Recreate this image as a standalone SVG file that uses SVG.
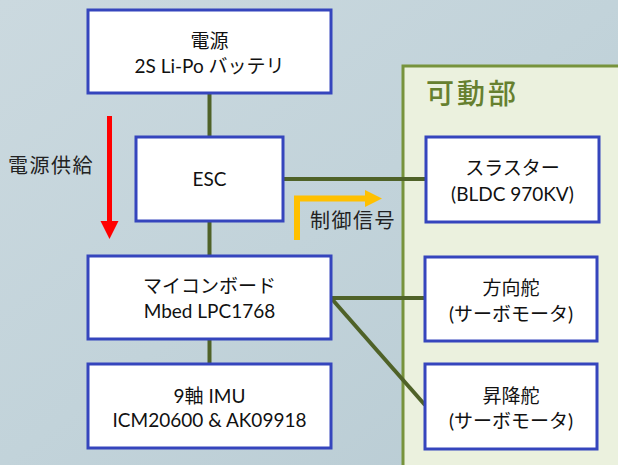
<svg xmlns="http://www.w3.org/2000/svg" width="618" height="465" viewBox="0 0 618 465">
<defs>
<linearGradient id="bg" x1="0" y1="0" x2="1" y2="1">
<stop offset="0" stop-color="#cbd9df"/>
<stop offset="0.5" stop-color="#c2d3da"/>
<stop offset="1" stop-color="#b8cbd3"/>
</linearGradient>
<style>
.box{fill:#ffffff;stroke:#3545bd;stroke-width:3}
.t{font-family:"Lato","Noto Sans CJK JP",sans-serif;font-size:19px;fill:#111;text-anchor:middle}
.lbl{font-family:"Noto Sans CJK JP",sans-serif;font-size:20px;fill:#222;letter-spacing:1.5px}
.con{stroke:#4f6228;stroke-width:4;fill:none}
</style>
</defs>
<rect x="0" y="0" width="618" height="465" fill="url(#bg)"/>
<g id="panel">
<rect x="403" y="66" width="230" height="420" fill="#ebf1de" stroke="#77933c" stroke-width="3"/>
<text x="426" y="104" font-family="Noto Sans CJK JP,sans-serif" font-size="28" font-weight="500" letter-spacing="3" fill="#66802f">可動部</text>
</g>
<g id="connectors">
<line class="con" x1="209.5" y1="93" x2="209.5" y2="137"/>
<line class="con" x1="209.5" y1="221" x2="209.5" y2="256"/>
<line class="con" x1="209.5" y1="339" x2="209.5" y2="364"/>
<line class="con" x1="283" y1="179" x2="426" y2="179"/>
<line class="con" x1="331" y1="298" x2="425" y2="298"/>
<line class="con" x1="331" y1="298" x2="425" y2="405"/>
</g>
<g id="power-arrow">
<line x1="109.5" y1="116" x2="109.5" y2="222" stroke="#ff0000" stroke-width="5"/>
<polygon points="100.5,221 118.5,221 109.5,239" fill="#ff0000"/>
<text class="lbl" x="8" y="173">電源供給</text>
</g>
<g id="signal-arrow">
<polyline points="297,240 297,198.5 366,198.5" stroke="#ffc000" stroke-width="6" fill="none"/>
<polygon points="365,190 382,198.5 365,207" fill="#ffc000"/>
<text class="lbl" x="310" y="228">制御信号</text>
</g>
<g id="battery">
<rect class="box" x="88" y="10" width="243" height="83"/>
<text class="t" x="209.5" y="48">電源</text>
<text class="t" x="209.5" y="73">2S Li-Po バッテリ</text>
</g>
<g id="esc">
<rect class="box" x="136" y="137" width="147" height="84"/>
<text class="t" x="209.5" y="186">ESC</text>
</g>
<g id="mcu">
<rect class="box" x="88" y="256" width="243" height="83"/>
<text class="t" x="209.5" y="293">マイコンボード</text>
<text class="t" x="209.5" y="318">Mbed LPC1768</text>
</g>
<g id="imu">
<rect class="box" x="88" y="364" width="243" height="84"/>
<text class="t" x="209.5" y="403">9軸 IMU</text>
<text class="t" x="209.5" y="427">ICM20600 &amp; AK09918</text>
</g>
<g id="thruster">
<rect class="box" x="426" y="137" width="173" height="85"/>
<text class="t" x="512.5" y="175">スラスター</text>
<text class="t" x="512.5" y="201">(BLDC 970KV)</text>
</g>
<g id="rudder">
<rect class="box" x="425" y="257" width="172" height="84"/>
<text class="t" x="511" y="295">方向舵</text>
<text class="t" x="511" y="321">(サーボモータ)</text>
</g>
<g id="elevator">
<rect class="box" x="425" y="364" width="172" height="85"/>
<text class="t" x="511" y="403">昇降舵</text>
<text class="t" x="511" y="428">(サーボモータ)</text>
</g>
</svg>
